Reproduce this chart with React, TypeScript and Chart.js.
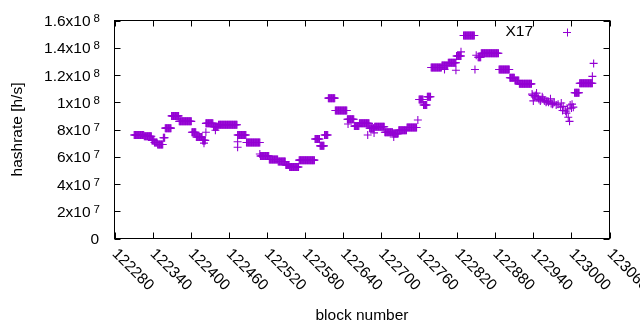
import React, { useEffect, useRef } from "react";
import { Chart, registerables } from "chart.js";

Chart.register(...registerables);

// Runs of blocks with a constant hashrate estimate (values in 10^6 h/s)
const runStart = [122311,122327,122339,122343,122348,122357,122360,122370,122382,122402,122409,122419,122424,122436,122444,122474,122488,122510,122524,122538,122550,122556,122571,122596,122604,122611,122617,122628,122647,122658,122666,122682,122690,122706,122719,122728,122741,122760,122767,122773,122779,122796,122806,122819,122830,122853,122858,122886,122903,122911,122918,123005,123013];
const runEnd = [122326,122338,122342,122347,122356,122359,122369,122381,122401,122408,122418,122423,122435,122443,122473,122487,122509,122523,122537,122549,122555,122570,122595,122603,122610,122616,122627,122646,122657,122665,122681,122689,122705,122718,122727,122740,122756,122766,122772,122778,122795,122805,122818,122826,122847,122857,122885,122902,122910,122917,122937,123012,123033];
const runValue = [76,75,72,70.5,69,74,81,90,86,78,74.5,72,84.5,82,83.5,76,70.5,60.5,58,56.5,54,52.5,57.5,73,68,76,103,94,87.5,82.5,84.5,81,82,78,77,79.5,81.5,102,98,104,125.5,127,129,134,149,133,136,124,118,116,113.5,107,114];

// Individual scattered points (values in 10^6 h/s)
const extraBlock = [122421,122424,122439,122474,122474,122509,122648,122679,122689,122720,122758,122800,122818,122826,122848,122850,123033,123035,
  122938,122939,122940,122942,122943,122945,122946,122948,122949,122951,122952,122954,122955,122957,122958,122960,122961,122963,122964,122967,122968,122970,122971,122973,122976,122979,122983,122984,122986,122987,122991,122992,122994,122995,122997,122998,123000,123001,123003];
const extraValue = [70,78,79.5,71,67,62,84,76,77.5,74.5,87,124,123.5,137,124,134.5,119,128.5,
  106,105,101,104,105,106.7,104,103,102,101,102,104,103,101.5,101,100,100.5,101,100,102.5,99,98.6,99,100,98,98.6,96.4,99.4,94,97,93.5,92,95,89,86,98,95.7,98.6,96.4];

const xTicks = [122280,122340,122400,122460,122520,122580,122640,122700,122760,122820,122880,122940,123000,123060];
const yTicks = [0,2e7,4e7,6e7,8e7,1e8,1.2e8,1.4e8,1.6e8];
const yTickLabels = ["0","2x10^7","4x10^7","6x10^7","8x10^7","1x10^8","1.2x10^8","1.4x10^8","1.6x10^8"];

const seriesName = "X17";
const xTitle = "block number";
const yTitle = "hashrate [h/s]";

const COLOR = "#9400d3";
const FONT = "'Liberation Sans', Arial, sans-serif";
const FS = 15.5;
const SUP = 11.5;
const TICK = 6;

const framePlugin = {
  id: "gnuplotFrame",
  afterDatasetsDraw(chart: any) {
    const ctx = chart.ctx as CanvasRenderingContext2D;
    const a = chart.chartArea;
    const xs = chart.scales.x;
    const ys = chart.scales.y;
    ctx.save();
    ctx.strokeStyle = "#000";
    ctx.lineWidth = 1;
    ctx.strokeRect(a.left, a.top, a.right - a.left, a.bottom - a.top);
    ctx.beginPath();
    for (const t of xTicks) {
      const x = Math.round(xs.getPixelForValue(t)) + 0.5;
      ctx.moveTo(x, a.bottom); ctx.lineTo(x, a.bottom - TICK);
      ctx.moveTo(x, a.top); ctx.lineTo(x, a.top + TICK);
    }
    for (const t of yTicks) {
      const y = Math.round(ys.getPixelForValue(t)) + 0.5;
      ctx.moveTo(a.left, y); ctx.lineTo(a.left + TICK, y);
      ctx.moveTo(a.right, y); ctx.lineTo(a.right - TICK, y);
    }
    ctx.stroke();

    ctx.fillStyle = "#000";
    // y tick labels
    const rightX = 100;
    yTicks.forEach((t, i) => {
      const y = ys.getPixelForValue(t);
      const [base, exp] = yTickLabels[i].split("^");
      ctx.textAlign = "right";
      ctx.textBaseline = "alphabetic";
      if (exp) {
        ctx.font = `${SUP}px ${FONT}`;
        const ew = ctx.measureText(exp).width;
        ctx.fillText(exp, rightX, y + 1.5);
        ctx.font = `${FS}px ${FONT}`;
        ctx.fillText(base, rightX - ew - 3, y + 5.5);
      } else {
        ctx.font = `${FS}px ${FONT}`;
        ctx.fillText(base, rightX - 1, y + 5.5);
      }
    });
    // x tick labels, rotated
    ctx.font = `${FS}px ${FONT}`;
    xTicks.forEach((t) => {
      const x = xs.getPixelForValue(t);
      ctx.save();
      ctx.translate(x, a.bottom + 13);
      ctx.rotate(Math.PI / 4);
      ctx.textAlign = "left";
      ctx.textBaseline = "middle";
      ctx.fillText(String(t), 0, 0);
      ctx.restore();
    });
    // axis titles
    ctx.textAlign = "center";
    ctx.textBaseline = "middle";
    ctx.fillText(xTitle, (a.left + a.right) / 2, 316);
    ctx.save();
    ctx.translate(18, (a.top + a.bottom) / 2);
    ctx.rotate(-Math.PI / 2);
    ctx.fillText(yTitle, 0, 0);
    ctx.restore();
    // legend
    ctx.textAlign = "right";
    ctx.fillText(seriesName, 533, 32);
    ctx.strokeStyle = COLOR;
    ctx.beginPath();
    ctx.moveTo(563, 32.5); ctx.lineTo(571, 32.5);
    ctx.moveTo(567.5, 28.5); ctx.lineTo(567.5, 36.5);
    ctx.stroke();
    ctx.restore();
  },
};

export default function App() {
  const ref = useRef<HTMLCanvasElement>(null);
  useEffect(() => {
    document.body.style.margin = "0";
    const pts: { x: number; y: number }[] = [];
    runStart.forEach((s, i) => {
      for (let b = s; b <= runEnd[i]; b++) pts.push({ x: b, y: runValue[i] * 1e6 });
    });
    extraBlock.forEach((b, i) => pts.push({ x: b, y: extraValue[i] * 1e6 }));
    const chart = new Chart(ref.current!, {
      type: "scatter",
      data: {
        datasets: [
          {
            label: seriesName,
            data: pts,
            pointStyle: "cross",
            pointRadius: 4,
            pointBorderWidth: 1.1,
            borderColor: COLOR,
            backgroundColor: COLOR,
          },
        ],
      },
      options: {
        responsive: false,
        animation: false,
        events: [],
        layout: { padding: { left: 114.5, right: 30.5, top: 20.5, bottom: 91.5 } },
        plugins: { legend: { display: false }, tooltip: { enabled: false } },
        scales: {
          x: { type: "linear", min: 122280, max: 123060, display: false },
          y: { type: "linear", min: 0, max: 1.6e8, display: false },
        },
      },
      plugins: [framePlugin],
    });
    return () => chart.destroy();
  }, []);
  return (
    <div style={{ position: "absolute", left: 0, top: 0, width: 640, height: 330, background: "#fff" }}>
      <canvas ref={ref} width={640} height={330} />
    </div>
  );
}
